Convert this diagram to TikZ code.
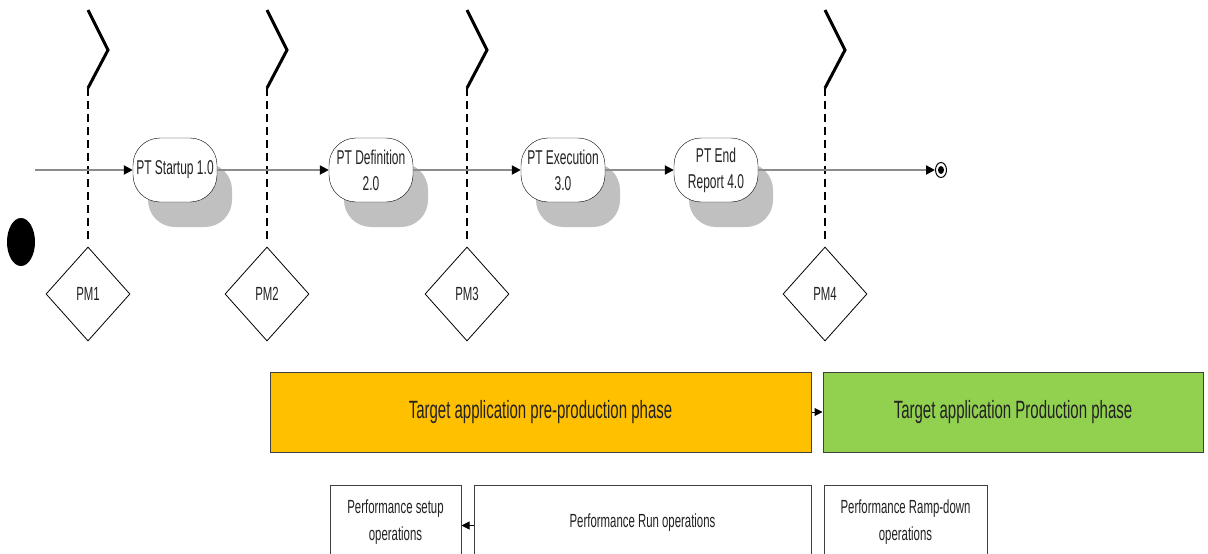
\documentclass[tikz,border=0pt]{standalone}
\usepackage{fontspec}
\setmainfont{Liberation Sans}[FakeStretch=0.6]
\usetikzlibrary{arrows.meta,shapes.geometric,shadows}
\definecolor{shadowgray}{HTML}{C0C0C0}
\definecolor{flowgray}{HTML}{8C8C8C}
\definecolor{boxline}{HTML}{404040}
\definecolor{txt}{HTML}{222222}
\definecolor{orangefill}{HTML}{FFC000}
\definecolor{greenfill}{HTML}{92D050}
\tikzset{
  proc/.style={draw=black, fill=white, rounded corners=27pt, minimum width=84pt, minimum height=64pt,
    inner sep=0pt, align=center, text=txt, font=\fontsize{20}{26}\selectfont,
    drop shadow={shadow xshift=15pt, shadow yshift=-25pt, fill=shadowgray, opacity=1}},
  flow/.style={draw=flowgray, line width=2pt, -{Triangle[length=9pt,width=9pt,color=black]}},
  zig/.style={draw=black, line width=3pt},
  dash line/.style={draw=black, line width=2.8pt, dash pattern=on 8pt off 5pt},
  pm/.style={diamond, draw=black, line width=0.8pt, fill=white, minimum width=84pt, minimum height=94pt,
    inner sep=0pt, text=txt, font=\fontsize{19}{23}\selectfont},
  phase/.style={draw=boxline, line width=1pt, minimum height=80pt, inner sep=0pt, text=txt,
    font=\fontsize{25}{30}\selectfont},
  opbox/.style={draw=boxline, line width=1pt, fill=white, minimum height=75pt, inner sep=0pt, align=center,
    text=txt, font=\fontsize{19}{27}\selectfont},
  link/.style={draw=black, line width=1pt, -{Triangle[length=8pt,width=8pt]}}
}
\begin{document}
\begin{tikzpicture}[x=1pt,y=-1pt]
\clip (0,0) rectangle (1208,554);
\fill[white] (0,0) rectangle (1208,554);

% start node
\node[ellipse, fill=black, minimum width=28pt, minimum height=48pt, inner sep=0pt] (start) at (21,242) {};

% milestone lines
\foreach \i/\x in {1/88,2/267,3/467,4/825}{
  \coordinate (k\i) at (\x,88);
  \draw[zig, line join=miter] (\x,10) -- (\x+20,50) -- (k\i);
  \node[pm] (pm\i) at (\x,294) {PM\i};
  \draw[dash line, shorten >=6pt] (k\i) -- (pm\i.north);
}

% process nodes
\node[proc] (p1) at (175,170) {PT Startup 1.0};
\node[proc] (p2) at (371,170) {PT Definition\\2.0};
\node[proc] (p3) at (563,170) {PT Execution\\3.0};
\node[proc] (p4) at (716,170) {PT End\\Report 4.0};

% end node
\node[ellipse, draw=black, line width=1pt, fill=white, minimum width=11pt, minimum height=15pt, inner sep=0pt] (end) at (941,170) {};
\fill[black] (end.center) ellipse (3pt and 4pt);

\coordinate (in) at (35,170);
\draw[flow] (in) -- (p1.west);
\draw[flow] (p1.east) -- (p2.west);
\draw[flow] (p2.east) -- (p3.west);
\draw[flow] (p3.east) -- (p4.west);
\draw[flow] (p4.east) -- (end.west);

% phases
\node[phase, fill=orangefill, minimum width=541pt] (pre) at (540.5,412) {Target application pre-production phase};
\node[phase, fill=greenfill, minimum width=380pt] (prod) at (1013,412) {Target application Production phase};
\draw[link] (pre.east) -- (prod.west);

% operations
\node[opbox, minimum width=131pt] (setup) at (395.5,522.5) {Performance setup\\operations};
\node[opbox, minimum width=337pt] (run) at (642.5,522.5) {Performance Run operations};
\node[opbox, minimum width=163pt] (ramp) at (905.5,522.5) {Performance Ramp-down\\operations};
\draw[link] ([yshift=-3pt]run.west) -- ([yshift=-3pt]setup.east);
\end{tikzpicture}
\end{document}
